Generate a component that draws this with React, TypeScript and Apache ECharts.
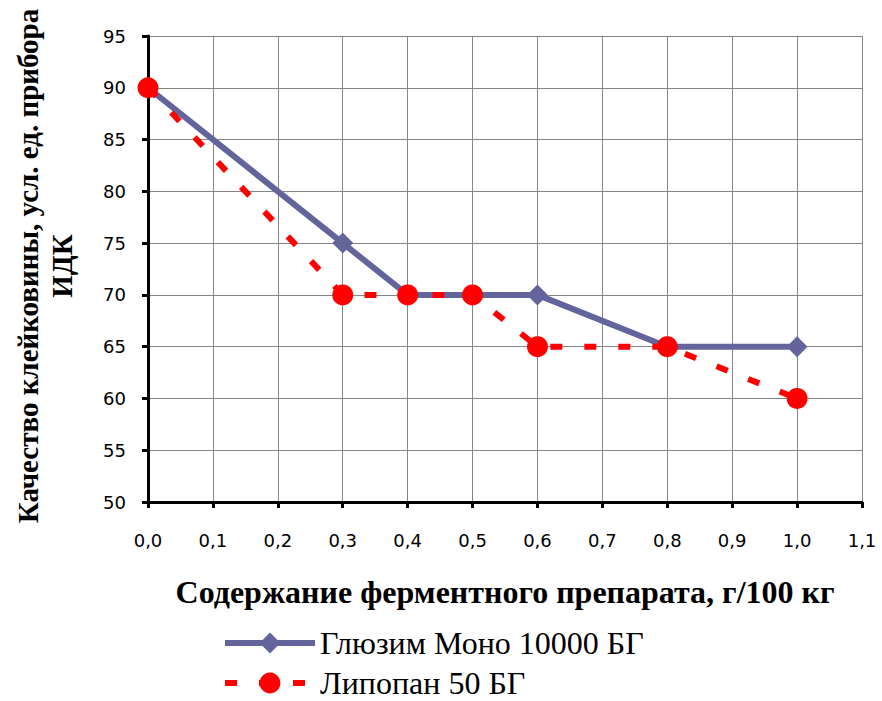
import React, { useEffect, useRef } from "react";
import * as echarts from "echarts";

const xValues = [0.0, 0.3, 0.4, 0.5, 0.6, 0.8, 1.0];
const glyuzim = [90, 75, 70, 70, 70, 65, 65];
const lipopan = [90, 70, 70, 70, 65, 65, 60];
const seriesNames = ["Глюзим Моно 10000 БГ", "Липопан 50 БГ"];
const xTitle = "Содержание ферментного препарата, г/100 кг";
const yTitle = "Качество клейковины, усл. ед. прибора\nИДК";

export default function App() {
  const ref = useRef<HTMLDivElement>(null);
  useEffect(() => {
    const chart = echarts.init(ref.current!, null, { renderer: "svg" });
    const labelFont = { fontFamily: "DejaVu Sans", fontSize: 18, color: "#000" };
    const legendBase = {
      orient: "vertical",
      left: 217,
      itemWidth: 90,
      itemHeight: 26,
      padding: [0, 5, 0, 5],
      lineStyle: { width: 6 },
      textStyle: { fontFamily: "Liberation Serif", fontSize: 32, lineHeight: 26, color: "#000" },
    };
    chart.setOption({
      animation: false,
      backgroundColor: "#fff",
      grid: { left: 148, right: 20, top: 36, bottom: 199, containLabel: false },
      xAxis: {
        type: "value",
        min: 0,
        max: 1.1,
        interval: 0.1,
        axisLine: { onZero: false, lineStyle: { color: "#000", width: 3 } },
        axisTick: { show: true, length: 6, lineStyle: { color: "#000", width: 3 } },
        axisLabel: {
          ...labelFont,
          margin: 29,
          formatter: (v: number) => v.toFixed(1).replace(".", ","),
        },
        splitLine: { show: true, lineStyle: { color: "#858585", width: 1 } },
      },
      yAxis: {
        type: "value",
        min: 50,
        max: 95,
        interval: 5,
        axisLine: { show: true, lineStyle: { color: "#000", width: 3 } },
        axisTick: { show: true, length: 6, lineStyle: { color: "#000", width: 3 } },
        axisLabel: { ...labelFont, margin: 22 },
        splitLine: { show: true, lineStyle: { color: "#858585", width: 1 } },
      },
      legend: [
        { ...legendBase, top: 627, data: [seriesNames[0]] },
        { ...legendBase, top: 667, data: [seriesNames[1]] },
      ],
      graphic: [
        {
          type: "text",
          x: 45,
          y: 266,
          rotation: Math.PI / 2,
          style: {
            text: yTitle,
            align: "center",
            verticalAlign: "middle",
            font: "bold 29px 'Liberation Serif'",
            lineHeight: 34,
            fill: "#000",
          },
        },
        {
          type: "text",
          x: 505,
          y: 592,
          style: {
            text: xTitle,
            align: "center",
            verticalAlign: "middle",
            font: "bold 32px 'Liberation Serif'",
            fill: "#000",
          },
        },
      ],
      series: [
        {
          name: seriesNames[0],
          type: "line",
          data: xValues.map((x, i) => [x, glyuzim[i]]),
          symbol: "diamond",
          symbolSize: 21,
          itemStyle: { color: "#64649C" },
          lineStyle: { color: "#64649C", width: 6 },
          z: 2,
        },
        {
          name: seriesNames[1],
          type: "line",
          data: xValues.map((x, i) => [x, lipopan[i]]),
          symbol: "circle",
          symbolSize: 21,
          itemStyle: { color: "#FF0000" },
          lineStyle: { color: "#FF0000", width: 6, type: [12, 22] },
          z: 3,
        },
      ],
    });
    return () => chart.dispose();
  }, []);
  return (
    <div
      ref={ref}
      style={{ position: "absolute", left: 0, top: 0, width: 882, height: 701 }}
    />
  );
}
